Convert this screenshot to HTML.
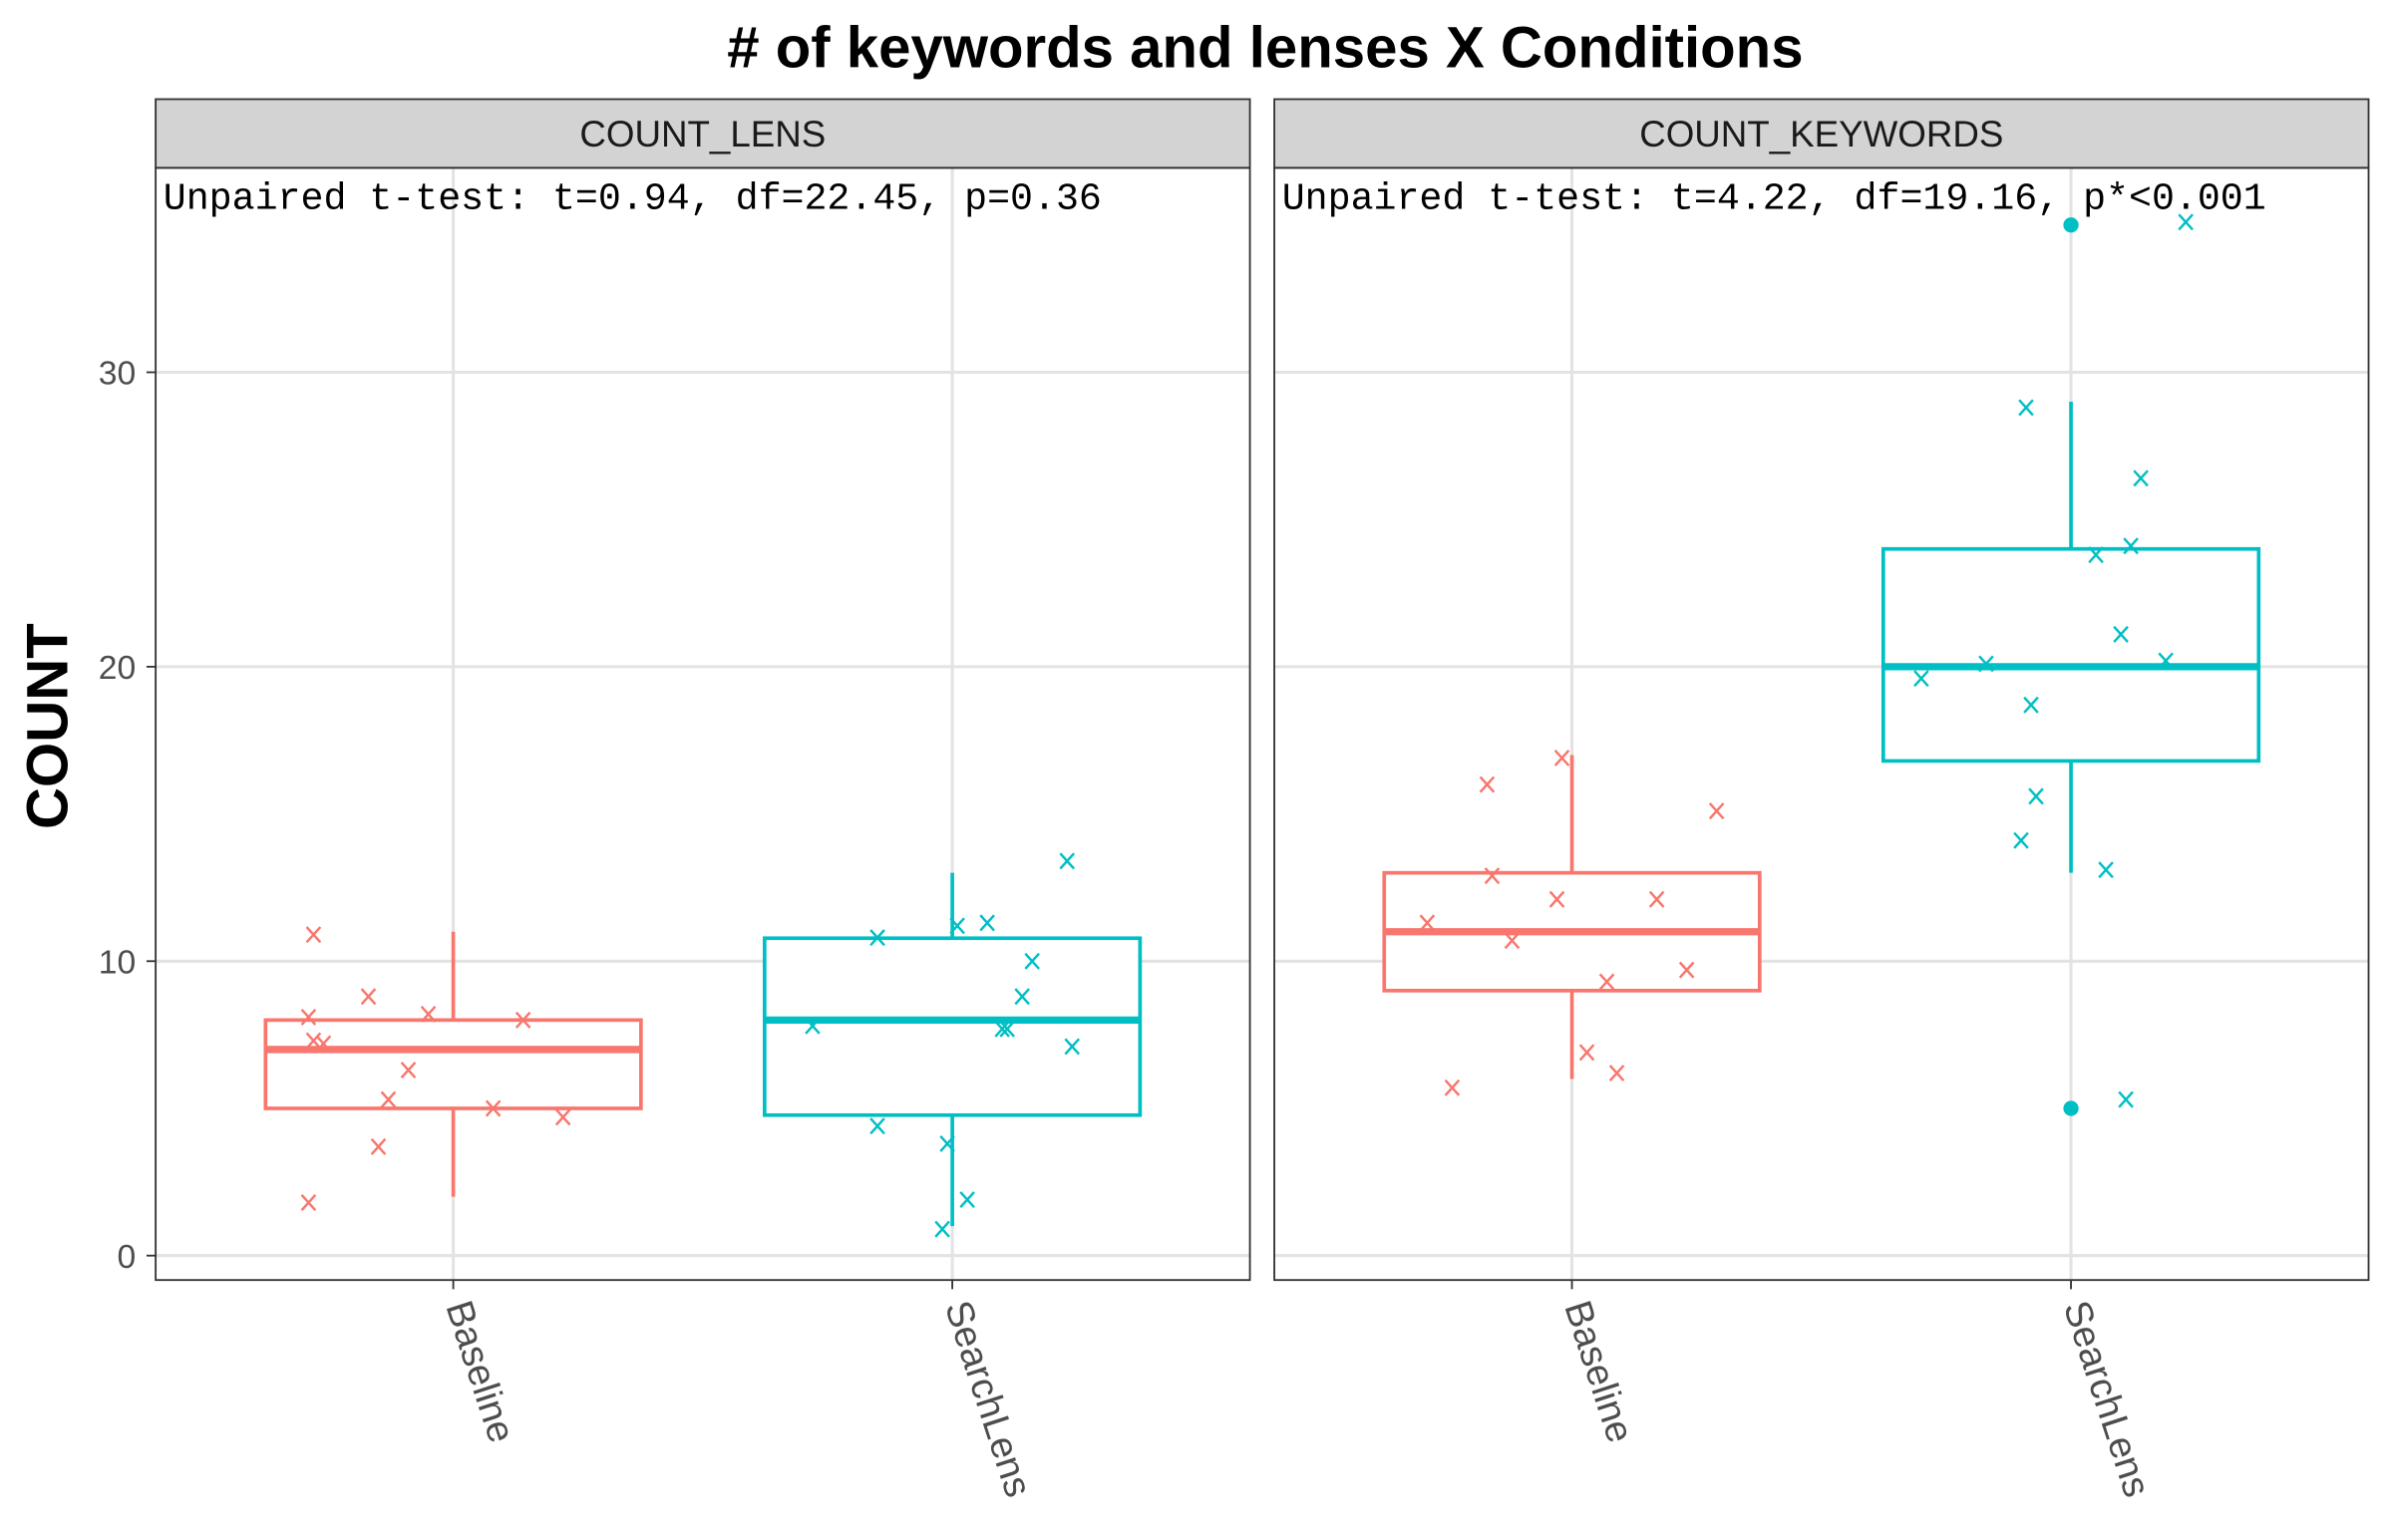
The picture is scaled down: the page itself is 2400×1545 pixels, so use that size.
<!DOCTYPE html>
<html><head><meta charset="utf-8"><style>
html,body{margin:0;padding:0;background:#fff;}
svg{display:block;}
text{font-family:"Liberation Sans",sans-serif;}
</style></head><body>
<svg id="chart" width="2400" height="1545" viewBox="0 0 1568 1009.4" xmlns="http://www.w3.org/2000/svg">
<text x="829" y="44" text-anchor="middle" font-size="38" font-weight="bold">#  of keywords and lenses X Conditions</text>
<text transform="translate(44,476) rotate(-90)" text-anchor="middle" font-size="38" font-weight="bold">COUNT</text>
<g id="root"></g>
</svg>
<script>
const categories = ["Baseline", "SearchLens"];
const panelNames = ["COUNT_LENS", "COUNT_KEYWORDS"];
const annotations = ["Unpaired t-test: t=0.94, df=22.45, p=0.36", "Unpaired t-test: t=4.22, df=19.16, p*<0.001"];
const yTicks = [0, 10, 20, 30];
// box stats: [lower whisker, q1, median, q3, upper whisker]
const lensBaselineBox = [2, 5, 7, 8, 11];
const lensSearchBox = [1, 4.77, 8, 10.78, 13];
const kwBaselineBox = [6, 9, 11, 13, 17];
const kwSearchBox = [13, 16.8, 20, 24, 29];
const kwSearchOutliers = [35, 5];
// jittered points: values and jitter (fraction of category spacing)
const lensBaselineVals = [10.9, 8.1, 8.8, 8.2, 8.0, 7.3, 7.2, 6.3, 5.3, 5.0, 4.7, 3.7, 1.8];
const lensBaselineJit = [-0.28, -0.29, -0.17, -0.05, 0.14, -0.28, -0.26, -0.09, -0.13, 0.08, 0.22, -0.15, -0.29];
const lensSearchVals = [10.8, 11.2, 11.3, 13.4, 10.0, 8.8, 7.8, 7.7, 7.7, 7.1, 4.4, 3.8, 1.9, 0.9];
const lensSearchJit = [-0.15, 0.01, 0.07, 0.23, 0.16, 0.14, -0.28, 0.10, 0.11, 0.24, -0.15, -0.01, 0.03, -0.02];
const kwBaselineVals = [16.9, 16.0, 15.1, 12.9, 12.1, 12.1, 11.3, 10.7, 9.7, 9.3, 6.9, 6.2, 5.7];
const kwBaselineJit = [-0.02, -0.17, 0.29, -0.16, -0.03, 0.17, -0.29, -0.12, 0.23, 0.07, 0.03, 0.09, -0.24];
const kwSearchVals = [35.1, 28.8, 26.4, 23.8, 24.1, 21.1, 20.1, 20.2, 19.6, 18.7, 15.6, 14.1, 13.1, 5.3];
const kwSearchJit = [0.23, -0.09, 0.14, 0.05, 0.12, 0.10, -0.17, 0.19, -0.30, -0.08, -0.07, -0.10, 0.07, 0.11];

const COLORS = ["#F8766D", "#00BFC4"];
const panels = [
  {x0: 102, x1: 819, boxes: [lensBaselineBox, lensSearchBox], vals: [lensBaselineVals, lensSearchVals], jit: [lensBaselineJit, lensSearchJit], outl: [[], []]},
  {x0: 835, x1: 1552, boxes: [kwBaselineBox, kwSearchBox], vals: [kwBaselineVals, kwSearchVals], jit: [kwBaselineJit, kwSearchJit], outl: [[], kwSearchOutliers]}
];
const PT = 110, PB = 839;
function y(v) { return 823 - v * 19.3; }
function xc(p, i) { return p.x0 + 195 + i * 327; }
const NS = "http://www.w3.org/2000/svg";
const root = document.getElementById("root");
function mk(tag, attrs, parent) {
  const e = document.createElementNS(NS, tag);
  for (const k in attrs) e.setAttribute(k, attrs[k]);
  (parent || root).appendChild(e);
  return e;
}
yTicks.forEach(t => {
  const tl = mk("text", {x: 89, y: y(t) + 8, "text-anchor": "end", "font-size": 22, fill: "#4d4d4d"});
  
  
  tl.textContent = t;
  const tk = mk("line", {x1: 96, x2: 102, y1: y(t), y2: y(t), stroke: "#333", "stroke-width": 1.2});
  
  
});
panels.forEach((p, pi) => {
  const g = mk("g", {});
  
  
  yTicks.forEach(t => {
    const gl = mk("line", {x1: p.x0, x2: p.x1, y1: y(t), y2: y(t), stroke: "#e3e3e3", "stroke-width": 2}, g);
    
    
  });
  categories.forEach((c, i) => {
    const gl = mk("line", {x1: xc(p, i), x2: xc(p, i), y1: PT, y2: PB, stroke: "#e3e3e3", "stroke-width": 2}, g);
    
    
  });
  const st = mk("rect", {x: p.x0, y: 65, width: p.x1 - p.x0, height: 45, fill: "#d3d3d3", stroke: "#333", "stroke-width": 1.2}, g);
  
  
  const stt = mk("text", {x: (p.x0 + p.x1) / 2, y: 96, "text-anchor": "middle", "font-size": 24, fill: "#1a1a1a"}, g);
  
  
  stt.textContent = panelNames[pi];
  categories.forEach((c, i) => {
    const cx = xc(p, i), col = COLORS[i], b = p.boxes[i];
    const wl = mk("line", {x1: cx, x2: cx, y1: y(b[0]), y2: y(b[1]), stroke: col, "stroke-width": 2.4}, g);
    
    
    const wu = mk("line", {x1: cx, x2: cx, y1: y(b[3]), y2: y(b[4]), stroke: col, "stroke-width": 2.4}, g);
    
    
    const bx = mk("rect", {x: cx - 123, y: y(b[3]), width: 246, height: y(b[1]) - y(b[3]), fill: "#fff", stroke: col, "stroke-width": 2.4}, g);
    
    
    const md = mk("line", {x1: cx - 123, x2: cx + 123, y1: y(b[2]), y2: y(b[2]), stroke: col, "stroke-width": 4.8}, g);
    
    
    p.outl[i].forEach(v => {
      const o = mk("circle", {cx: cx, cy: y(v), r: 5, fill: col}, g);
      
      
    });
    p.vals[i].forEach((v, k) => {
      const px = cx + p.jit[i][k] * 327, py = y(v);
      const pt = mk("path", {d: `M${px-4.5},${py-5}L${px+4.5},${py+5}M${px-4.5},${py+5}L${px+4.5},${py-5}`, stroke: col, "stroke-width": 1.6, fill: "none"}, g);
      
      
    });
    const tk = mk("line", {x1: cx, x2: cx, y1: PB, y2: PB + 6, stroke: "#333", "stroke-width": 1.2}, g);
    
    
    const xl = mk("text", {transform: `translate(${cx - 5},${PB + 17}) rotate(72)`, "font-size": 25, fill: "#4d4d4d"}, g);
    
    
    xl.textContent = c;
  });
  const an = mk("text", {x: p.x0 + 5, y: 137, "font-size": 25, fill: "#000", style: "font-family:'Liberation Mono',monospace"}, g);
  
  
  an.textContent = annotations[pi];
  const bd = mk("rect", {x: p.x0, y: PT, width: p.x1 - p.x0, height: PB - PT, fill: "none", stroke: "#333", "stroke-width": 1.2}, g);
  
  
});
</script>
</body></html>
